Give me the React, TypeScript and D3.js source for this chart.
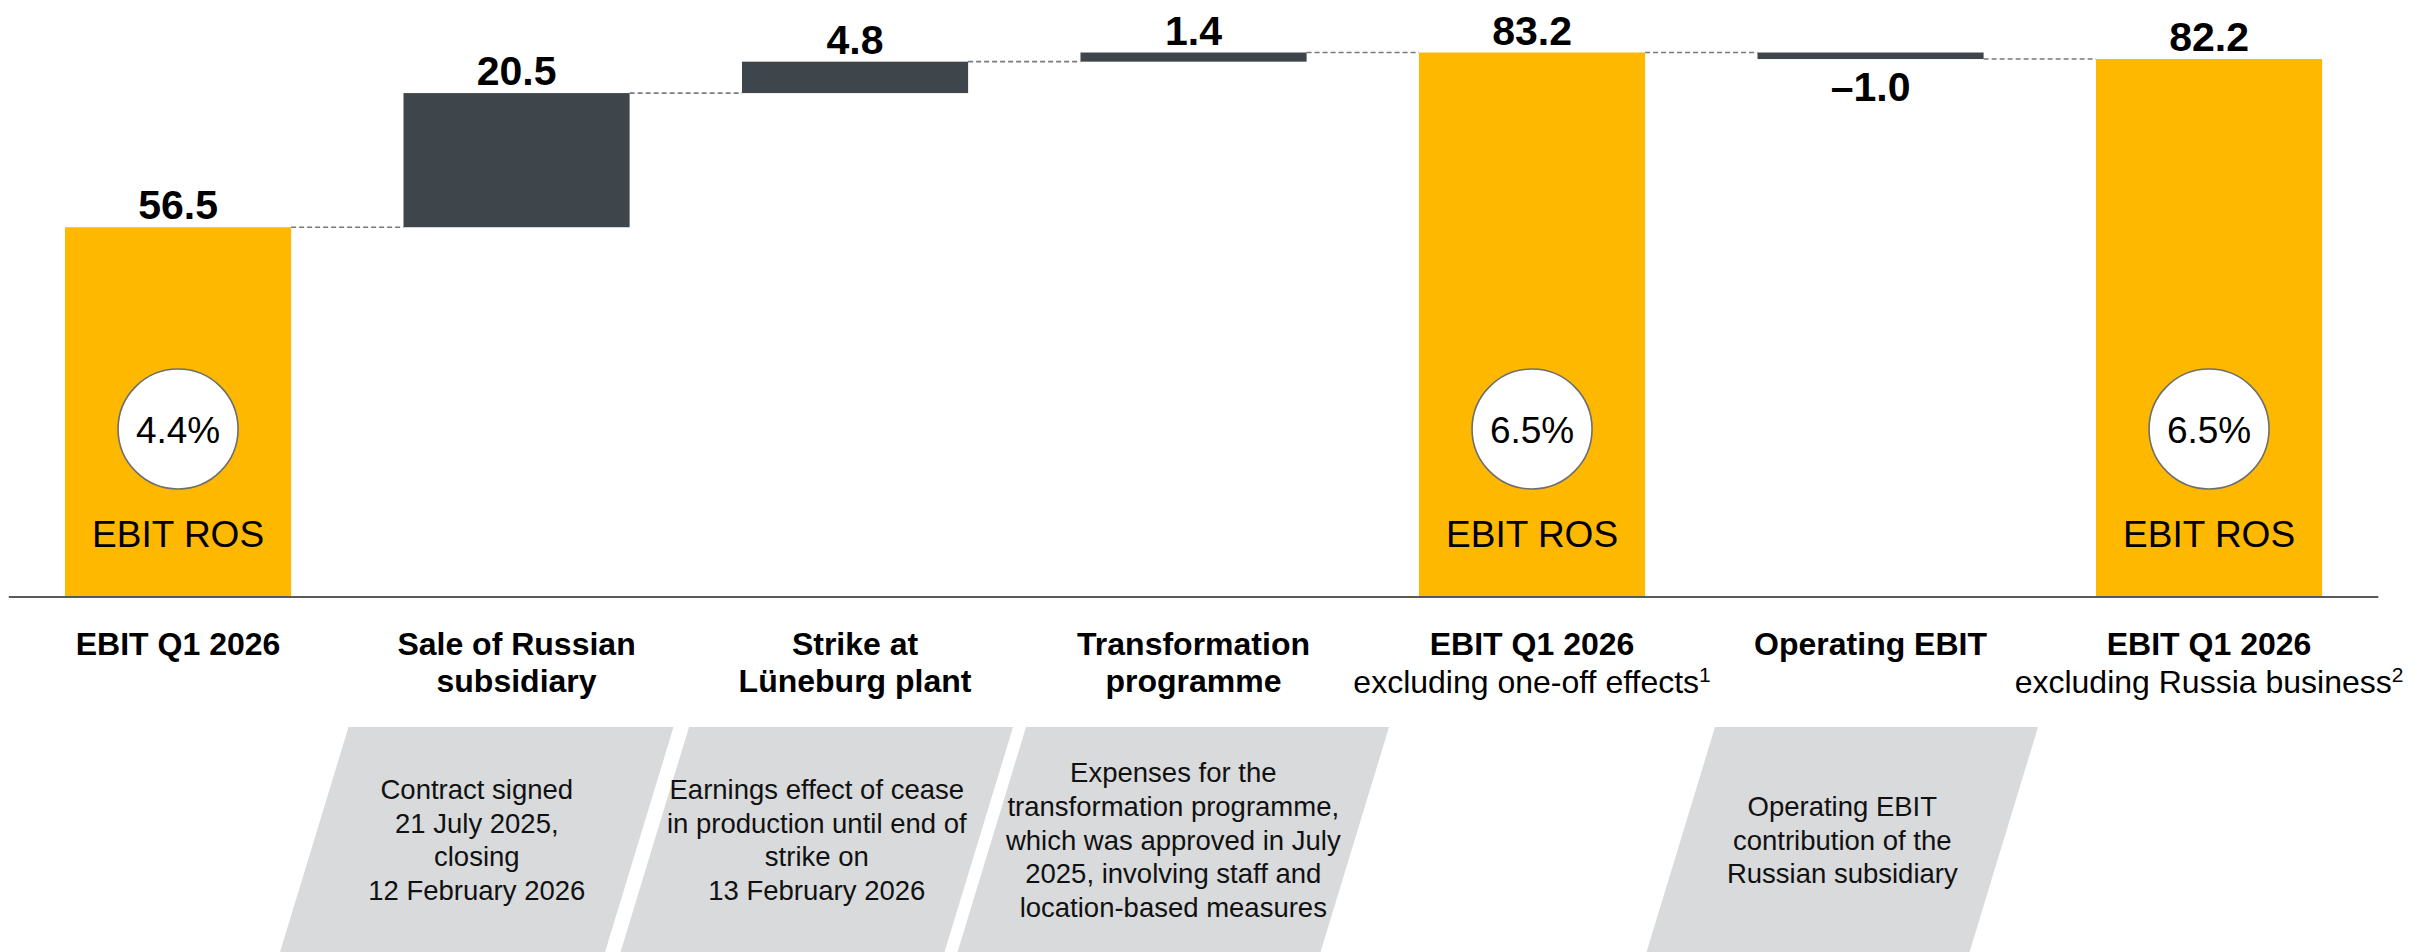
import React from "react";
import * as d3 from "d3";

// ---------- data ----------
const categories = ["c1", "c2", "c3", "c4", "c5", "c6", "c7"];
const values = [56.5, 20.5, 4.8, 1.4, 83.2, -1.0, 82.2];
const barTypes = ["total", "delta", "delta", "delta", "total", "delta", "total"];
const rosLabels = ["4.4%", "", "", "", "6.5%", "", "6.5%"];
const titleLines = [
  ["EBIT Q1 2026"],
  ["Sale of Russian", "subsidiary"],
  ["Strike at", "Lüneburg plant"],
  ["Transformation", "programme"],
  ["EBIT Q1 2026"],
  ["Operating EBIT"],
  ["EBIT Q1 2026"],
];
const subtitles = ["", "", "", "", "excluding one-off effects", "", "excluding Russia business"];
const footnoteMarks = ["", "", "", "", "1", "", "2"];
const descriptions = [
  [],
  ["Contract signed", "21 July 2025,", "closing", "12 February 2026"],
  ["Earnings effect of cease", "in production until end of", "strike on", "13 February 2026"],
  ["Expenses for the", "transformation programme,", "which was approved in July", "2025, involving staff and", "location-based measures"],
  [],
  ["Operating EBIT", "contribution of the", "Russian subsidiary"],
  [],
];

// ---------- styling / layout ----------
const W = 2430;
const H = 952;
const FONT = "'Liberation Sans', Arial, Helvetica, sans-serif";
const YELLOW = "#FEB800";
const DARK = "#3E464C";
const BOX_FILL = "#D8DADB";
const boxOffsets = [0, -5.5, -4, 14, 0, 6, 0];
const boxWidths = [0, 325, 324, 363, 0, 323, 0];
const BOX_TOP = 727;
const BOX_SLANT = 68.5 / 225;
const DESC_LINE = 33.6;

export default function App() {
  const baseline = 597;
  const x = d3
    .scaleBand<string>()
    .domain(categories)
    .range([8.8, 2378.3])
    .paddingInner(0.332)
    .paddingOuter(0.166);
  const y = d3.scaleLinear().domain([0, 90]).range([baseline, 8]);
  const bw = x.bandwidth();

  // running totals
  let run = 0;
  const bars = values.map((v, i) => {
    let start: number, end: number;
    if (barTypes[i] === "total") {
      start = 0;
      end = v;
    } else {
      start = run;
      end = run + v;
    }
    run = end;
    return { cat: categories[i], v, start, end, type: barTypes[i], i };
  });

  const fmt = (v: number) => (v < 0 ? "\u2013" + Math.abs(v).toFixed(1) : v.toFixed(1));

  return (
    <svg
      width={W}
      height={H}
      style={{ position: "absolute", left: 0, top: 0, background: "#fff" }}
      fontFamily={FONT}
    >
      {/* description parallelograms */}
      {descriptions.map((lines, i) => {
        if (!lines.length) return null;
        const cx = (x(categories[i]) as number) + bw / 2 + boxOffsets[i];
        const w = boxWidths[i];
        const bottom = H + 20;
        const sl = (bottom - BOX_TOP) * BOX_SLANT;
        const pts = [
          [cx - w / 2, BOX_TOP],
          [cx + w / 2, BOX_TOP],
          [cx + w / 2 - sl, bottom],
          [cx - w / 2 - sl, bottom],
        ];
        const midY = (BOX_TOP + H) / 2;
        const tx = cx - (midY - BOX_TOP) * BOX_SLANT;
        const n = lines.length;
        const firstBase = midY + 10 - ((n - 1) * DESC_LINE) / 2;
        return (
          <g key={"box" + i}>
            <polygon points={pts.map((p) => p.join(",")).join(" ")} fill={BOX_FILL} />
            <text textAnchor="middle" fontSize={27.5} fill="#111">
              {lines.map((l, k) => (
                <tspan key={k} x={tx} y={firstBase + k * DESC_LINE}>
                  {l}
                </tspan>
              ))}
            </text>
          </g>
        );
      })}

      {/* connectors */}
      {bars.slice(0, -1).map((b, i) => {
        const x1 = (x(b.cat) as number) + bw;
        const x2 = x(categories[i + 1]) as number;
        return (
          <line
            key={"con" + i}
            x1={x1}
            x2={x2}
            y1={y(b.end)}
            y2={y(b.end)}
            stroke="#7a7a7a"
            strokeWidth={1.6}
            strokeDasharray="5,3"
          />
        );
      })}

      {/* bars */}
      {bars.map((b) => {
        const top = y(Math.max(b.start, b.end));
        const bot = y(Math.min(b.start, b.end));
        return (
          <rect
            key={"bar" + b.i}
            x={x(b.cat)}
            y={top}
            width={bw}
            height={bot - top}
            fill={b.type === "total" ? YELLOW : DARK}
          />
        );
      })}

      {/* axis */}
      <line x1={x.range()[0]} x2={x.range()[1]} y1={baseline} y2={baseline} stroke="#595959" strokeWidth={2} />

      {/* value labels */}
      {bars.map((b) => {
        const cx = (x(b.cat) as number) + bw / 2;
        const ty = b.v >= 0 ? y(Math.max(b.start, b.end)) - 8 : y(Math.min(b.start, b.end)) + 42;
        return (
          <text key={"val" + b.i} x={cx} y={ty} textAnchor="middle" fontSize={41} fontWeight="bold" fill="#000">
            {fmt(b.v)}
          </text>
        );
      })}

      {/* ROS circles */}
      {bars.map((b) => {
        if (!rosLabels[b.i]) return null;
        const cx = (x(b.cat) as number) + bw / 2;
        return (
          <g key={"ros" + b.i}>
            <circle cx={cx} cy={429} r={60} fill="#fff" stroke="#6e6e6e" strokeWidth={1.6} />
            <text x={cx} y={443} textAnchor="middle" fontSize={37} fill="#000">
              {rosLabels[b.i]}
            </text>
            <text x={cx} y={547} textAnchor="middle" fontSize={37} fill="#000">
              EBIT ROS
            </text>
          </g>
        );
      })}

      {/* category labels */}
      {categories.map((c, i) => {
        const cx = (x(c) as number) + bw / 2;
        return (
          <g key={"cat" + i}>
            {titleLines[i].map((l, k) => (
              <text key={k} x={cx} y={655 + k * 37} textAnchor="middle" fontSize={32} fontWeight="bold" fill="#000">
                {l}
              </text>
            ))}
            {subtitles[i] && (
              <text x={cx} y={693} textAnchor="middle" fontSize={32} fill="#000">
                {subtitles[i]}
                <tspan fontSize={21} dy={-11}>
                  {footnoteMarks[i]}
                </tspan>
              </text>
            )}
          </g>
        );
      })}
    </svg>
  );
}
